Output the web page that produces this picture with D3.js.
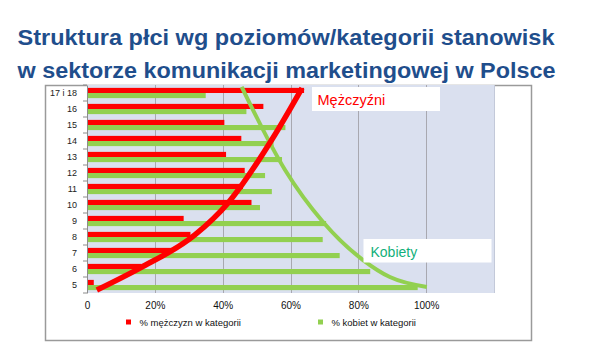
<!DOCTYPE html>
<html><head><meta charset="utf-8">
<script src="https://cdn.jsdelivr.net/npm/d3@7"></script>
<style>html,body{margin:0;padding:0;background:#fff;}svg{display:block;}</style>
</head><body>
<svg id="c" width="595" height="356"></svg>
<script>
const categories = ["17 i 18","16","15","14","13","12","11","10","9","8","7","6","5"];
const men   = [64, 52, 40.5, 45.5, 41, 46.5, 46, 48.5, 28.5, 30.5, 25, 16, 2];
const women = [35, 47, 58.5, 55, 57.5, 52.5, 54.5, 51, 70.5, 69.5, 74.5, 83.5, 97.5];
const xTicks = [0, 20, 40, 60, 80, 100];
const xTickLabels = ["0", "20%", "40%", "60%", "80%", "100%"];
const seriesNames = ["% mężczyzn w kategorii", "% kobiet w kategorii"];
// trend annotation curves: [percent, vertical position in category units from bottom]
const menCurve = [[2.9,0.19],[15.6,1.56],[31.8,3.63],[41.6,5.63],[54.8,9.69],[63.4,12.81]];
const womenCurve = [[45.6,12.89],[58.4,7.69],[69.6,4.44],[81.4,2.06],[89.3,1.0],[100.2,0.38]];

(function () {
const svg = d3.select("#c");
const RED = "#FF0000", GREEN = "#92D050";
const FONT = "Liberation Sans, Arial, sans-serif";

// title
const title = svg.append("g").attr("fill", "#1F4E8C").attr("font-family", FONT)
  .attr("font-weight", "bold").attr("font-size", 22);
title.append("text").attr("x", 17.5).attr("y", 45).attr("textLength", 537).attr("lengthAdjust", "spacingAndGlyphs")
  .text("Struktura płci wg poziomów/kategorii stanowisk");
title.append("text").attr("x", 17.5).attr("y", 78).attr("textLength", 538).attr("lengthAdjust", "spacingAndGlyphs")
  .text("w sektorze komunikacji marketingowej w Polsce");

// frame
svg.append("rect").attr("x", 45.5).attr("y", 85.5).attr("width", 486).attr("height", 255)
  .attr("fill", "#fff").attr("stroke", "#9a9a9a").attr("stroke-width", 1.5);

const pL = 87, pR = 494, pT = 85, pB = 293;
const x = d3.scaleLinear().domain([0, 120]).range([pL, pR]);
const y = d3.scaleBand().domain(categories).range([pT, pB]).paddingInner(0.36).paddingOuter(0.18);
const ySub = d3.scaleBand().domain(["m", "w"]).range([0, y.bandwidth()]);
const yPos = d3.scaleLinear().domain([0, 13]).range([pB, pT]);

// plot background
svg.append("rect").attr("x", pL).attr("y", pT).attr("width", pR - pL).attr("height", pB - pT)
  .attr("fill", "#DAE0EF");
svg.append("line").attr("x1", pR + 0.5).attr("x2", pR + 0.5).attr("y1", pT).attr("y2", pB)
  .attr("stroke", "#C3C9D9");

// gridlines
svg.append("g").selectAll("line").data(xTicks.slice(1)).join("line")
  .attr("x1", d => Math.round(x(d)) + 0.5).attr("x2", d => Math.round(x(d)) + 0.5)
  .attr("y1", pT).attr("y2", pB).attr("stroke", "#A8A8B0").attr("stroke-width", 1);

// bars
svg.append("g").selectAll("rect").data(categories).join("rect")
  .attr("x", x(0)).attr("y", d => y(d) + ySub("m"))
  .attr("width", (d, i) => x(men[i]) - x(0)).attr("height", ySub.bandwidth()).attr("fill", RED);
svg.append("g").selectAll("rect").data(categories).join("rect")
  .attr("x", x(0)).attr("y", d => y(d) + ySub("w"))
  .attr("width", (d, i) => x(women[i]) - x(0)).attr("height", ySub.bandwidth()).attr("fill", GREEN);

// curves
const line = d3.line().x(d => x(d[0])).y(d => yPos(d[1])).curve(d3.curveMonotoneX);
svg.append("path").attr("d", line(womenCurve)).attr("fill", "none").attr("stroke", GREEN).attr("stroke-width", 4);
svg.append("path").attr("d", line(menCurve)).attr("fill", "none").attr("stroke", RED).attr("stroke-width", 5.5);

// y axis
const yAxis = svg.append("g").attr("transform", `translate(${pL},0)`)
  .call(d3.axisLeft(y).tickSize(0).tickPadding(10));
yAxis.select(".domain").attr("stroke", "#8c8c8c");
yAxis.selectAll("text").attr("font-family", FONT).attr("font-size", 9).attr("fill", "#222");
const step = (pB - pT) / categories.length;
svg.append("g").selectAll("line").data(d3.range(categories.length + 1)).join("line")
  .attr("x1", pL - 4).attr("x2", pL).attr("y1", d => pT + d * step).attr("y2", d => pT + d * step)
  .attr("stroke", "#8c8c8c");

// x axis labels
const xAxis = svg.append("g").attr("transform", `translate(0,${pB})`)
  .call(d3.axisBottom(x).tickValues(xTicks).tickFormat((d, i) => xTickLabels[i]).tickSize(0).tickPadding(9));
xAxis.select(".domain").remove();
xAxis.selectAll("text").attr("font-family", FONT).attr("font-size", 10).attr("fill", "#111");

// annotation boxes
svg.append("rect").attr("x", 312).attr("y", 87).attr("width", 128).attr("height", 24).attr("fill", "#fff");
svg.append("text").attr("x", 317.5).attr("y", 105).attr("font-family", FONT)
  .attr("font-size", 14.5).attr("fill", RED).text("Mężczyźni");
svg.append("rect").attr("x", 363.5).attr("y", 239).attr("width", 128).attr("height", 23.5).attr("fill", "#fff");
svg.append("text").attr("x", 370.5).attr("y", 256.5).attr("font-family", FONT)
  .attr("font-size", 14).attr("fill", "#12B07A").text("Kobiety");

// legend
const legend = svg.append("g").attr("font-family", FONT).attr("font-size", 9.5).attr("fill", "#111");
const legX = [126, 318];
const legColors = [RED, GREEN];
seriesNames.forEach((n, i) => {
  legend.append("rect").attr("x", legX[i]).attr("y", 319.5).attr("width", 5).attr("height", 5).attr("fill", legColors[i]);
  legend.append("text").attr("x", legX[i] + 13.5).attr("y", 325.5).text(n);
});
})();
</script>
</body></html>
